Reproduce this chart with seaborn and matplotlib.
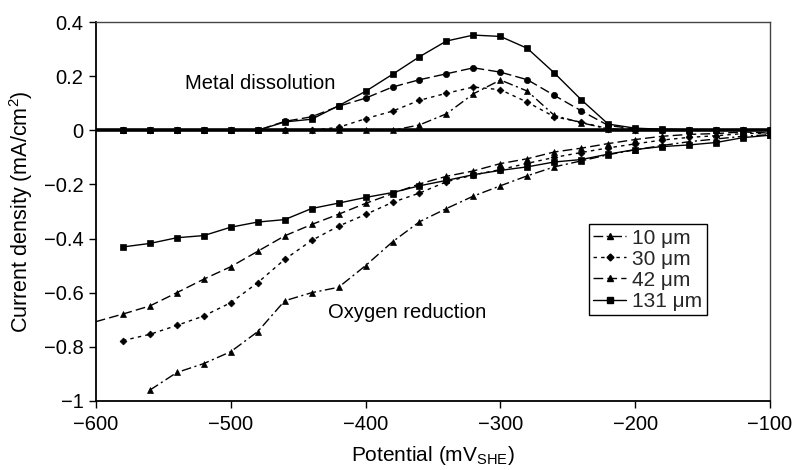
import numpy as np
import pandas as pd
import matplotlib
matplotlib.use("Agg")
import matplotlib.pyplot as plt
from matplotlib.lines import Line2D
from matplotlib.ticker import FuncFormatter
import seaborn as sns

sns.set_theme(style="white")
plt.rcParams['font.family'] = ['Liberation Sans', 'DejaVu Sans']
plt.rcParams['mathtext.fontset'] = 'custom'
plt.rcParams['mathtext.rm'] = 'Liberation Sans'

# ---- data ----
potential = [-580, -560, -540, -520, -500, -480, -460, -440, -420, -400, -380, -360, -340,
             -320, -300, -280, -260, -240, -220, -200, -180, -160, -140, -120, -100]

# anodic (metal dissolution) branches
up_10 = [0, 0, 0, 0, 0, 0, 0, 0, 0, 0, 0, 0.02, 0.061, 0.135, 0.186, 0.145, 0.055, 0.028,
         0.005, 0.002, 0.001, 0, 0, 0, 0]
up_30 = [0, 0, 0, 0, 0, 0, 0, 0, 0.011, 0.043, 0.071, 0.111, 0.137, 0.16, 0.15, 0.104, 0.05,
         0.03, 0.006, 0.003, 0.002, 0.001, 0, 0, 0]
up_42 = [0, 0, 0, 0, 0, 0, 0.033, 0.05, 0.089, 0.119, 0.16, 0.187, 0.209, 0.231, 0.215, 0.187,
         0.129, 0.072, 0.018, 0.005, 0.003, 0.002, 0.001, 0, 0]
up_131 = [0, 0, 0, 0, 0, 0, 0.031, 0.041, 0.091, 0.144, 0.207, 0.272, 0.33, 0.352, 0.347, 0.303,
          0.212, 0.113, 0.023, 0.008, 0.004, 0.002, 0.001, 0, 0]

# cathodic (oxygen reduction) branches
potential_10 = potential[1:]
lo_10 = [-0.96, -0.895, -0.862, -0.818, -0.744, -0.63, -0.60, -0.58, -0.50, -0.412, -0.338,
         -0.289, -0.243, -0.205, -0.168, -0.135, -0.113, -0.09, -0.072, -0.056, -0.042, -0.032,
         -0.022, -0.016]
lo_30 = [-0.777, -0.754, -0.721, -0.686, -0.637, -0.563, -0.477, -0.407, -0.354, -0.311, -0.266,
         -0.232, -0.19, -0.165, -0.145, -0.122, -0.10, -0.082, -0.065, -0.05, -0.036, -0.026,
         -0.02, -0.012, -0.01]
potential_42 = [-620] + potential
lo_42 = [-0.735, -0.679, -0.649, -0.60, -0.55, -0.504, -0.447, -0.39, -0.348, -0.31, -0.27, -0.234,
         -0.198, -0.17, -0.15, -0.123, -0.105, -0.08, -0.066, -0.049, -0.034, -0.022, -0.015,
         -0.012, -0.006, -0.01]
lo_131 = [-0.431, -0.418, -0.397, -0.389, -0.358, -0.339, -0.33, -0.289, -0.269, -0.248, -0.23,
          -0.205, -0.185, -0.164, -0.148, -0.135, -0.117, -0.108, -0.088, -0.071, -0.06, -0.054,
          -0.045, -0.027, -0.018]

labels = ["10 \u03bcm", "30 \u03bcm", "42 \u03bcm", "131 \u03bcm"]

# ---- styles ----
ls_10 = (0, (7, 2.5, 1.5, 2.5))
ls_30 = (0, (2.5, 3))
ls_42 = (0, (7, 3))
ls_131 = '-'
FS = 14.5

fig = plt.figure(figsize=(7.93, 4.70), dpi=100)
ax = fig.add_axes([0.121, 0.147, 0.850, 0.806])

ax.axhline(0, color='black', lw=2.6, zorder=1)

def draw(x, y, ls, marker, ms):
    sns.lineplot(x=x, y=y, ax=ax, color='black', linestyle=ls, lw=1.0, marker=marker,
                 markersize=ms, markeredgecolor='black', markerfacecolor='black',
                 markeredgewidth=0.5, zorder=3, sort=False, errorbar=None)

draw(potential, up_131, ls_131, 's', 4.5)
draw(potential, up_42, ls_42, 'o', 4.5)
draw(potential, up_30, ls_30, 'D', 3.5)
draw(potential, up_10, ls_10, '^', 4.5)

draw(potential, lo_131, ls_131, 's', 4.5)
draw(potential_42, lo_42, ls_42, '^', 4.5)
draw(potential, lo_30, ls_30, 'D', 3.5)
draw(potential_10, lo_10, ls_10, '^', 4.5)

ax.set_xlim(-600, -100)
ax.set_ylim(-1.0, 0.4)
ax.set_xticks([-600, -500, -400, -300, -200, -100])
ax.set_yticks([0.4, 0.2, 0, -0.2, -0.4, -0.6, -0.8, -1.0])

def fmt(v, pos):
    s = f"{v:g}"
    if s == "-0":
        s = "0"
    return s.replace("-", "\u2212")

ax.xaxis.set_major_formatter(FuncFormatter(fmt))
ax.yaxis.set_major_formatter(FuncFormatter(fmt))
ax.tick_params(axis='both', direction='out', length=5, width=1, color='black',
               labelsize=FS, labelcolor='black', bottom=True, left=True)
ax.tick_params(axis='x', pad=5)
ax.tick_params(axis='y', pad=4)

for side in ['left', 'bottom']:
    ax.spines[side].set_color('black')
    ax.spines[side].set_linewidth(1.3)
for side in ['top', 'right']:
    ax.spines[side].set_color('#444444')
    ax.spines[side].set_linewidth(1.0)

ax.set_xlabel("Potential (mV$_\\mathregular{SHE}$)", fontsize=15, color='black', labelpad=7)
ax.set_ylabel("Current density (mA/cm$^\\mathregular{2}$)", fontsize=15.5, color='black', labelpad=6)

ax.text(-534, 0.173, "Metal dissolution", fontsize=FS, va='center', ha='left', color='black')
ax.text(-428, -0.675, "Oxygen reduction", fontsize=FS, va='center', ha='left', color='black')

handles = [
    Line2D([], [], color='black', lw=1, linestyle=ls_10, marker='^', markersize=4.5),
    Line2D([], [], color='black', lw=1, linestyle=ls_30, marker='D', markersize=3.5),
    Line2D([], [], color='black', lw=1, linestyle=ls_42, marker='^', markersize=4.5),
    Line2D([], [], color='black', lw=1, linestyle=ls_131, marker='s', markersize=4.5),
]
leg = ax.legend(handles, labels, loc='upper left', bbox_to_anchor=(0.731, 0.466),
                frameon=True, fancybox=False, edgecolor='black', framealpha=1,
                fontsize=15, handlelength=1.6, handletextpad=0.3, labelspacing=0.1,
                borderpad=0.2, borderaxespad=0)
leg.get_frame().set_linewidth(1.0)

fig.savefig("out.png", dpi=100)
